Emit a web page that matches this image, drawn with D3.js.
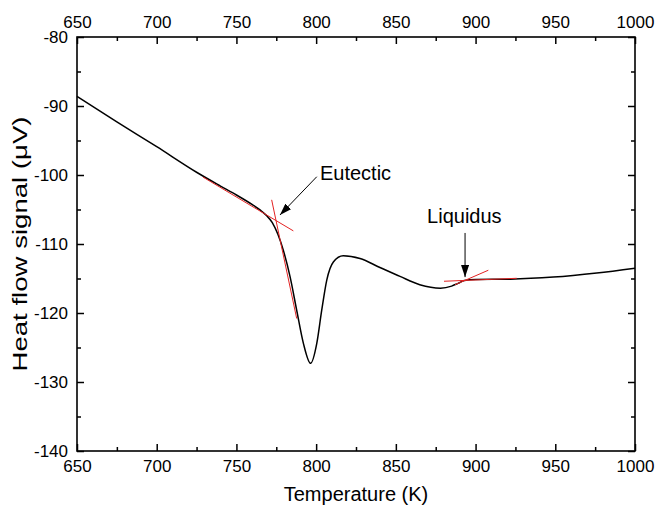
<!DOCTYPE html>
<html><head><meta charset="utf-8">
<script src="https://cdn.jsdelivr.net/npm/d3@7"></script>
<style>body{margin:0;background:#fff}svg{display:block}text{font-family:"Liberation Sans",Arial,sans-serif;fill:#000}</style>
</head><body>
<svg id="c" width="656" height="508"></svg>
<script>
// DSC curve: temperature (K) and heat flow signal (µV)
const temperature = [650,675,700,725,740,750,760,765,769,772.5,776,779.4,783.6,787.8,792,796.5,800.4,803.5,806.7,810.8,817,827.5,840,852.6,865,878,885,889,893,900,921.6,948.8,976,1000];
const heatFlow    = [-88.6,-92.3,-95.9,-99.6,-101.6,-102.9,-104.3,-105.1,-105.9,-106.9,-108.6,-110.9,-114.7,-119.6,-124.4,-127.3,-124.4,-119.6,-115.2,-112.6,-111.7,-112.1,-113.4,-114.7,-115.9,-116.4,-116.1,-115.7,-115.3,-115.15,-115.1,-114.8,-114.2,-113.5];
// tangent construction lines [[T1,v1],[T2,v2]]
const tangents = [
  [[729,-100.3],[785.7,-108.1]],
  [[772.1,-103.6],[787.8,-120.8]],
  [[880.2,-115.4],[925.8,-114.97]],
  [[887.1,-115.9],[908,-113.8]]
];
// annotations: label, label anchor, arrow start, arrow tip
const annLabels = ["Eutectic","Liquidus"];
const annText   = [[802.4,-100.7],[869.6,-107.0]];
const annFrom   = [[800.4,-100.25],[893.4,-108.4]];
const annTo     = [[777.3,-105.8],[893.4,-114.8]];
const xTicks = [650,700,750,800,850,900,950,1000];
const yTicks = [-80,-90,-100,-110,-120,-130,-140];

const svg = d3.select("#c");
const L=77,R=635,T=37,B=451;
const x = d3.scaleLinear().domain([650,1000]).range([L,R]);
const y = d3.scaleLinear().domain([-140,-80]).range([B,T]);

const minorX = d3.range(675,1000,50);
const minorY = d3.range(-135,-80,10);

function axis(g, gen, ticks, fmt){
  g.call(gen.tickValues(ticks).tickFormat(fmt).tickSizeOuter(0));
  g.select(".domain").remove();
  g.selectAll("line").attr("stroke","#000").attr("stroke-width",1.5);
  g.attr("font-size",null).attr("font-family",null);
}
const lab = d=>String(d);
const FS = 17;
// bottom
const gb = svg.append("g").attr("transform",`translate(0,${B})`);
axis(gb, d3.axisBottom(x).tickSize(-7).tickPadding(9), xTicks, lab);
gb.selectAll("text").attr("font-size",FS).attr("dy","0.72em");
const gbm = svg.append("g").attr("transform",`translate(0,${B})`);
axis(gbm, d3.axisBottom(x).tickSize(-4), minorX, ""); 
// top
const gt = svg.append("g").attr("transform",`translate(0,${T})`);
axis(gt, d3.axisTop(x).tickSize(-7).tickPadding(9), xTicks, lab);
gt.selectAll("text").attr("font-size",FS);
const gtm = svg.append("g").attr("transform",`translate(0,${T})`);
axis(gtm, d3.axisTop(x).tickSize(-4), minorX, "");
// left
const gl = svg.append("g").attr("transform",`translate(${L},0)`);
axis(gl, d3.axisLeft(y).tickSize(-7).tickPadding(9), yTicks, lab);
gl.selectAll("text").attr("font-size",FS);
const glm = svg.append("g").attr("transform",`translate(${L},0)`);
axis(glm, d3.axisLeft(y).tickSize(-4), minorY, "");
// right
const gr = svg.append("g").attr("transform",`translate(${R},0)`);
axis(gr, d3.axisRight(y).tickSize(-7), yTicks, "");
const grm = svg.append("g").attr("transform",`translate(${R},0)`);
axis(grm, d3.axisRight(y).tickSize(-4), minorY, "");
svg.selectAll(".tick text").attr("fill","#000");

// frame
svg.append("rect").attr("x",L).attr("y",T).attr("width",R-L).attr("height",B-T)
  .attr("fill","none").attr("stroke","#000").attr("stroke-width",1.6);

// curve
const pts = temperature.map((t,i)=>[t,heatFlow[i]]);
svg.append("path").datum(pts)
  .attr("d", d3.line().x(d=>x(d[0])).y(d=>y(d[1])).curve(d3.curveMonotoneX))
  .attr("fill","none").attr("stroke","#000").attr("stroke-width",1.5);

// tangents
svg.append("g").selectAll("line").data(tangents).join("line")
  .attr("x1",d=>x(d[0][0])).attr("y1",d=>y(d[0][1]))
  .attr("x2",d=>x(d[1][0])).attr("y2",d=>y(d[1][1]))
  .attr("stroke","#e32222").attr("stroke-width",1);

// arrows
svg.append("defs").append("marker").attr("id","ah")
  .attr("viewBox","0 0 12 8").attr("refX",12).attr("refY",4)
  .attr("markerWidth",12).attr("markerHeight",8).attr("markerUnits","userSpaceOnUse")
  .attr("orient","auto")
  .append("path").attr("d","M0,0L12,4L0,8Z").attr("fill","#000");
annLabels.forEach((s,i)=>{
  svg.append("line")
    .attr("x1",x(annFrom[i][0])).attr("y1",y(annFrom[i][1]))
    .attr("x2",x(annTo[i][0])).attr("y2",y(annTo[i][1]))
    .attr("stroke","#000").attr("stroke-width",1).attr("marker-end","url(#ah)");
  svg.append("text").attr("x",x(annText[i][0])).attr("y",y(annText[i][1]))
    .attr("font-size",20).text(s);
});

// axis titles
svg.append("text").attr("x",(L+R)/2).attr("y",501).attr("text-anchor","middle")
  .attr("font-size",20).text("Temperature (K)");
svg.append("text").attr("transform",`translate(27,${(T+B)/2}) rotate(-90)`)
  .attr("text-anchor","middle").attr("font-size",20)
  .attr("textLength",255).attr("lengthAdjust","spacingAndGlyphs")
  .text("Heat flow signal (\u03bcV)");
</script>
</body></html>
